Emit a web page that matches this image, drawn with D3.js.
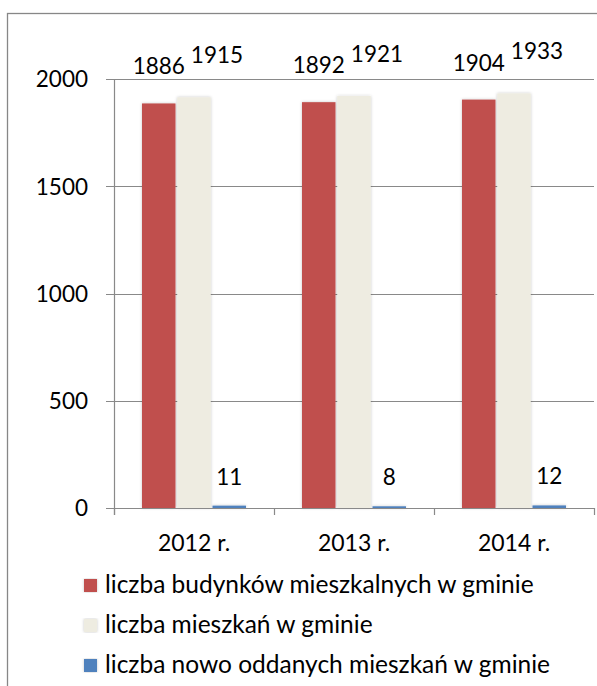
<!DOCTYPE html>
<html>
<head>
<meta charset="utf-8">
<script src="https://cdn.jsdelivr.net/npm/d3@7"></script>
<style>
  html, body { margin: 0; padding: 0; background: #fff; }
  svg text { font-family: Lato, "Open Sans", sans-serif; fill: #000; }
</style>
</head>
<body>
<svg id="chart" width="597" height="686"></svg>
<script>
// ---- data ----
const categories = ["2012 r.", "2013 r.", "2014 r."];
const seriesNames = [
  "liczba budynków mieszkalnych w gminie",
  "liczba mieszkań w gminie",
  "liczba nowo oddanych mieszkań w gminie"
];
const buildings = [1886, 1892, 1904];
const dwellings = [1915, 1921, 1933];
const newDwellings = [11, 8, 12];
const yTicks = [0, 500, 1000, 1500, 2000];

const seriesValues = [buildings, dwellings, newDwellings];
const colors = ["#C0504D", "#EEECE1", "#4F81BD"];

// ---- layout ----
const svg = d3.select("#chart");
const fontSize = 22.5;
const xFontSize = 23;
const legendFontSize = 24.5;
const gridColor = "#898989";

svg.append("rect").attr("width", 597).attr("height", 686).attr("fill", "#fff");
// outer frame
svg.append("rect")
  .attr("x", 7.5).attr("y", 13.5).attr("width", 620).attr("height", 720)
  .attr("fill", "none").attr("stroke", "#878787").attr("stroke-width", 1.3);

const defs = svg.append("defs");
const f = defs.append("filter").attr("id", "shadow")
  .attr("x", "-30%").attr("y", "-5%").attr("width", "160%").attr("height", "110%");
f.append("feDropShadow").attr("dx", 0).attr("dy", 0).attr("stdDeviation", 1.6)
  .attr("flood-color", "#000").attr("flood-opacity", 0.22);

const y = d3.scaleLinear().domain([0, 2000]).range([508, 79]);
const x = d3.scaleBand().domain(categories).range([114, 594]).padding(0);
const xSub = d3.scaleBand().domain(d3.range(seriesNames.length))
  .range([28, x.bandwidth() - 28]).paddingInner(0.05).paddingOuter(0);

// gridlines (with outward tick extension)
svg.append("g").selectAll("line").data(yTicks.filter(t => t > 0)).join("line")
  .attr("x1", 106).attr("x2", 594)
  .attr("y1", d => Math.round(y(d)) + 0.5).attr("y2", d => Math.round(y(d)) + 0.5)
  .attr("stroke", gridColor).attr("stroke-width", 1.2);

// y tick labels
svg.append("g").selectAll("text").data(yTicks).join("text")
  .attr("x", 88).attr("y", d => y(d)).attr("dy", "0.37em")
  .attr("text-anchor", "end").attr("font-size", fontSize)
  .text(d => d);

// bars
const barData = [];
categories.forEach((c, i) => {
  seriesValues.forEach((vals, s) => {
    barData.push({ cat: c, s, v: vals[i] });
  });
});
svg.append("g").attr("filter", "url(#shadow)")
  .selectAll("rect").data(barData).join("rect")
  .attr("x", d => x(d.cat) + xSub(d.s))
  .attr("width", xSub.bandwidth())
  .attr("y", d => y(d.v))
  .attr("height", d => y(0) - y(d.v))
  .attr("fill", d => colors[d.s]);

// axes lines
const axisG = svg.append("g").attr("stroke", gridColor).attr("stroke-width", 1.2);
axisG.append("line").attr("x1", 114.5).attr("x2", 114.5).attr("y1", y(2000)).attr("y2", y(0) + 7);
axisG.append("line").attr("x1", 106).attr("x2", 594).attr("y1", Math.round(y(0)) + 0.5).attr("y2", Math.round(y(0)) + 0.5);
const bounds = categories.map(c => x(c)).concat([x.range()[1]]);
axisG.selectAll("line.tick").data(bounds).join("line").attr("class", "tick")
  .attr("x1", d => Math.round(d) + 0.5).attr("x2", d => Math.round(d) + 0.5)
  .attr("y1", y(0)).attr("y2", y(0) + 7);

// x labels
svg.append("g").selectAll("text").data(categories).join("text")
  .attr("x", d => x(d) + x.bandwidth() / 2).attr("y", y(0) + 43)
  .attr("text-anchor", "middle").attr("font-size", xFontSize)
  .text(d => d);

// value labels with simple collision avoidance (only when boxes overlap vertically)
const labelG = svg.append("g");
categories.forEach((c, i) => {
  let prev = null;
  seriesValues.forEach((vals, s) => {
    const v = vals[i];
    const cx = x(c) + xSub(s) + xSub.bandwidth() / 2;
    const gap = s === 2 ? 21 : 29;
    const t = labelG.append("text")
      .attr("font-size", fontSize).attr("text-anchor", "start")
      .text(v);
    const w = t.node().getComputedTextLength();
    let left = cx - w / 2;
    let base = y(v) - gap;
    if (prev && Math.abs(prev.base - base) < fontSize && left < prev.right + 8) {
      left = prev.right + 6;
      base -= 5;
    }
    t.attr("x", left).attr("y", base);
    prev = { right: left + w, base };
  });
});

// legend
const legend = svg.append("g");
seriesNames.forEach((name, s) => {
  const base = 593 + s * 40;
  legend.append("rect")
    .attr("x", 84).attr("y", base - 14).attr("width", 13).attr("height", 13)
    .attr("fill", colors[s]).attr("filter", "url(#shadow)");
  legend.append("text")
    .attr("x", 105).attr("y", base).attr("font-size", legendFontSize)
    .text(name);
});
</script>
</body>
</html>
